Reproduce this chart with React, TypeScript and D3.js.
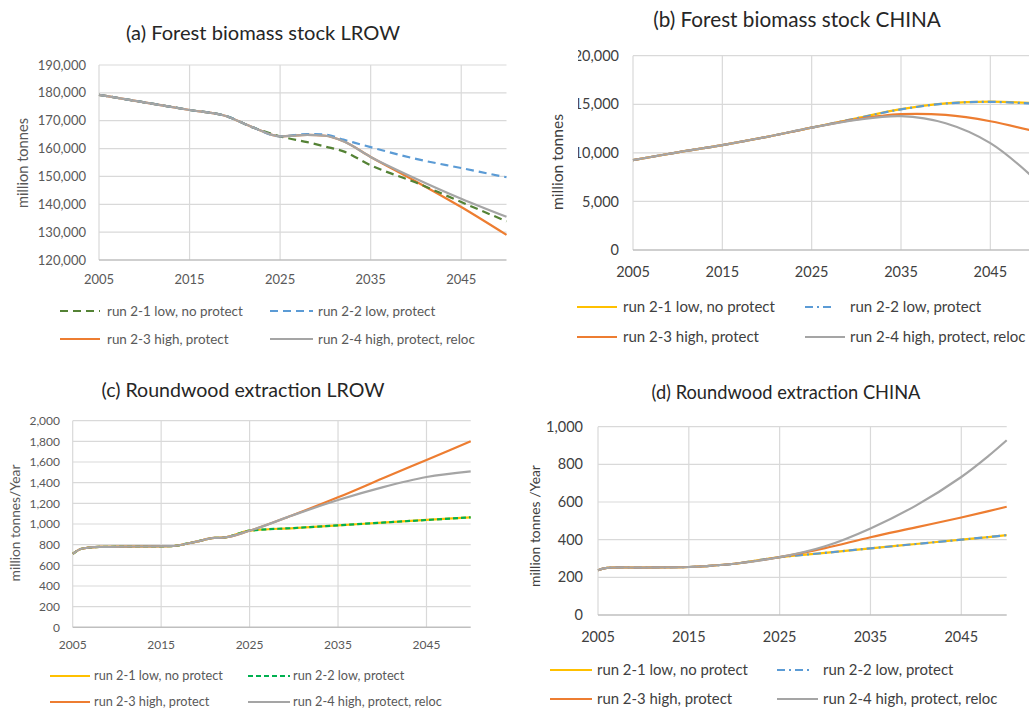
import { useEffect, useRef } from "react";
import * as d3 from "d3";

const FONT = "Lato, 'Open Sans', 'DejaVu Sans', sans-serif";

const seriesNames = [
  "run 2-1 low, no protect",
  "run 2-2 low, protect",
  "run 2-3 high, protect",
  "run 2-4 high, protect, reloc",
];
const xTicks = [2005, 2015, 2025, 2035, 2045];

// (a) Forest biomass stock LROW, million tonnes
const yearsA = [2005, 2010, 2015, 2019, 2022, 2025, 2028, 2030, 2032, 2035, 2040, 2045, 2050];
const baseA = [179300, 176600, 173850, 171700, 167600, 164400];
const run21A = [...baseA, 162300, 160700, 159000, 154000, 147800, 140800, 133900];
const run22A = [...baseA, 165200, 165000, 163200, 160500, 156300, 153000, 149700];
const run23A = [...baseA, 164900, 164600, 162600, 157000, 148200, 139000, 129000];
const run24A = [...baseA, 164900, 164600, 162600, 157000, 149200, 142000, 135500];
const yTicksA = [120000, 130000, 140000, 150000, 160000, 170000, 180000, 190000];

// (b) Forest biomass stock CHINA, million tonnes
const yearsB = [2005, 2010, 2015, 2020, 2025, 2030, 2035, 2040, 2045, 2050];
const baseB = [9250, 10050, 10800, 11650, 12600];
const run21B = [...baseB, 13550, 14500, 15100, 15280, 15100];
const run22B = [...baseB, 13550, 14480, 15080, 15250, 15050];
const run23B = [...baseB, 13450, 13980, 13900, 13250, 12200];
const run24B = [...baseB, 13400, 13780, 13050, 11000, 7300];
const yTicksB = [0, 5000, 10000, 15000, 20000];

// (c) Roundwood extraction LROW, million tonnes/year
const yearsC = [2005, 2006, 2008, 2012, 2016, 2019, 2021, 2022, 2025, 2030, 2035, 2040, 2045, 2050];
const baseC = [710, 760, 778, 782, 785, 830, 865, 868, 935];
const run21C = [...baseC, 961, 987, 1013, 1039, 1065];
const run22C = [...baseC, 961, 987, 1013, 1039, 1065];
const run23C = [...baseC, 1090, 1258, 1440, 1620, 1800];
const run24C = [...baseC, 1088, 1232, 1355, 1455, 1510];
const yTicksC = [0, 200, 400, 600, 800, 1000, 1200, 1400, 1600, 1800, 2000];

// (d) Roundwood extraction CHINA, million tonnes/year
const yearsD = [2005, 2006, 2010, 2015, 2017, 2020, 2025, 2030, 2035, 2040, 2045, 2048, 2050];
const baseD = [238, 250, 252, 255, 260, 272, 307];
const run21D = [...baseD, 330, 354, 377, 400, 414, 424];
const run22D = [...baseD, 330, 354, 377, 400, 414, 424];
const run23D = [...baseD, 355, 413, 465, 518, 552, 575];
const run24D = [...baseD, 365, 460, 581, 733, 845, 928];
const yTicksD = [0, 200, 400, 600, 800, 1000];

const ORANGE = "#ed7d31";
const GRAY = "#a5a5a5";
const BLUE = "#5b9bd5";
const YELLOW = "#ffc000";

type Series = { values: number[]; color: string; dash?: string };
type Panel = {
  title: string; titleX: number; titleY: number; titleW: number;
  x0: number; x1: number; yTop: number; yBottom: number;
  yDomain: [number, number]; yTicks: number[]; years: number[];
  series: Series[]; smooth: boolean;
  tickSize: number; tickColor: string; labelRight: number; xLabelY: number;
  yTitle: string; yTitleX: number; yTitleY: number; yTitleW: number;
  clipLeft?: number;
  legendRows: [number, number]; legendItems: [number, number, number][];
  legendW: number; legendColor: string;
};

const panels: Panel[] = [
  {
    title: "(a) Forest biomass stock LROW", titleX: 263, titleY: 33, titleW: 274,
    x0: 99, x1: 506.5, yTop: 65, yBottom: 260, yDomain: [120000, 190000], yTicks: yTicksA, years: yearsA,
    series: [
      { values: run21A, color: "#548235", dash: "8,5" },
      { values: run22A, color: BLUE, dash: "8,5" },
      { values: run23A, color: ORANGE },
      { values: run24A, color: GRAY },
    ],
    smooth: false,
    tickSize: 13, tickColor: "#595959", labelRight: 86, xLabelY: 279,
    yTitle: "million tonnes", yTitleX: 23, yTitleY: 163, yTitleW: 90,
    legendRows: [311, 339], legendItems: [[60, 100, 107], [270, 313, 318], [60, 100, 107], [270, 313, 318]],
    legendW: 136, legendColor: "#595959",
  },
  {
    title: "(b) Forest biomass stock CHINA", titleX: 797, titleY: 20, titleW: 288,
    x0: 633, x1: 1035, yTop: 55.7, yBottom: 250, yDomain: [0, 20000], yTicks: yTicksB, years: yearsB,
    series: [
      { values: run21B, color: YELLOW },
      { values: run22B, color: BLUE, dash: "8,4,2,4" },
      { values: run23B, color: ORANGE },
      { values: run24B, color: GRAY },
    ],
    smooth: true,
    tickSize: 14.5, tickColor: "#404040", labelRight: 619, xLabelY: 272,
    yTitle: "million tonnes", yTitleX: 558, yTitleY: 162, yTitleW: 96, clipLeft: 578,
    legendRows: [307, 337], legendItems: [[577, 617, 623], [805, 835, 850], [577, 617, 623], [805, 845, 850]],
    legendW: 152, legendColor: "#404040",
  },
  {
    title: "(c) Roundwood extraction LROW", titleX: 243, titleY: 390, titleW: 283,
    x0: 72.7, x1: 470.7, yTop: 420.7, yBottom: 627.3, yDomain: [0, 2000], yTicks: yTicksC, years: yearsC,
    series: [
      { values: run21C, color: YELLOW },
      { values: run22C, color: "#00b050", dash: "5,3" },
      { values: run23C, color: ORANGE },
      { values: run24C, color: GRAY },
    ],
    smooth: false,
    tickSize: 12, tickColor: "#595959", labelRight: 60, xLabelY: 645,
    yTitle: "million tonnes/Year", yTitleX: 15, yTitleY: 523, yTitleW: 117,
    legendRows: [676, 702], legendItems: [[50, 90, 94], [248, 290, 293], [50, 90, 94], [248, 290, 293]],
    legendW: 129, legendColor: "#595959",
  },
  {
    title: "(d) Roundwood extraction CHINA", titleX: 786, titleY: 393, titleW: 269,
    x0: 598, x1: 1006.7, yTop: 426.7, yBottom: 615, yDomain: [0, 1000], yTicks: yTicksD, years: yearsD,
    series: [
      { values: run21D, color: YELLOW },
      { values: run22D, color: BLUE, dash: "8,4,2,4" },
      { values: run23D, color: ORANGE },
      { values: run24D, color: GRAY },
    ],
    smooth: true,
    tickSize: 14.5, tickColor: "#404040", labelRight: 583, xLabelY: 637,
    yTitle: "million tonnes /Year", yTitleX: 535, yTitleY: 526, yTitleW: 122,
    legendRows: [670, 699], legendItems: [[550, 592, 597], [777, 810, 823], [550, 592, 597], [777, 818, 823]],
    legendW: 151, legendColor: "#404040",
  },
];

// scale a text's font size so that it spans the given width
function fitText(sel: d3.Selection<SVGTextElement, unknown, null, undefined>, target: number) {
  const node = sel.node();
  if (!node) return 14;
  const w = node.getComputedTextLength();
  const fs = parseFloat(sel.style("font-size"));
  const size = w > 0 ? (fs * target) / w : fs;
  sel.style("font-size", size + "px");
  return size;
}

function drawPanel(svg: d3.Selection<SVGSVGElement, unknown, null, undefined>, p: Panel, idx: number) {
  const g = svg.append("g");
  const x = d3.scaleLinear().domain([2005, 2050]).range([p.x0, p.x1]);
  const y = d3.scaleLinear().domain(p.yDomain).range([p.yBottom, p.yTop]);

  // gridlines
  g.selectAll(".hgrid")
    .data(p.yTicks.slice(1))
    .join("line")
    .attr("class", "hgrid")
    .attr("x1", p.x0).attr("x2", p.x1)
    .attr("y1", (d) => y(d)).attr("y2", (d) => y(d))
    .attr("stroke", "#d9d9d9").attr("stroke-width", 1.2);
  g.selectAll(".vgrid")
    .data(xTicks)
    .join("line")
    .attr("class", "vgrid")
    .attr("x1", (d) => x(d)).attr("x2", (d) => x(d))
    .attr("y1", p.yTop).attr("y2", p.yBottom)
    .attr("stroke", "#d9d9d9").attr("stroke-width", 1.2);
  g.append("line")
    .attr("x1", p.x0).attr("x2", p.x1)
    .attr("y1", p.yBottom).attr("y2", p.yBottom)
    .attr("stroke", "#bfbfbf").attr("stroke-width", 1.4);

  // y tick labels
  const yLab = g.append("g");
  if (p.clipLeft !== undefined) {
    const id = "clip" + idx;
    svg.append("clipPath").attr("id", id).append("rect")
      .attr("x", p.clipLeft).attr("y", 0).attr("width", 600).attr("height", 709);
    yLab.attr("clip-path", `url(#${id})`);
  }
  yLab.selectAll("text")
    .data(p.yTicks)
    .join("text")
    .attr("x", p.labelRight)
    .attr("y", (d) => y(d))
    .attr("dy", "0.35em")
    .attr("text-anchor", "end")
    .style("font-size", p.tickSize + "px")
    .attr("fill", p.tickColor)
    .text((d) => d3.format(",")(d));

  // x tick labels
  g.selectAll(".xlab")
    .data(xTicks)
    .join("text")
    .attr("class", "xlab")
    .attr("x", (d) => x(d))
    .attr("y", p.xLabelY)
    .attr("dy", "0.35em")
    .attr("text-anchor", "middle")
    .style("font-size", p.tickSize + "px")
    .attr("fill", p.tickColor)
    .text((d) => String(d));

  // y axis title
  const yt = g.append("text")
    .attr("transform", `translate(${p.yTitleX},${p.yTitleY}) rotate(-90)`)
    .attr("dy", "0.35em")
    .attr("text-anchor", "middle")
    .style("font-size", "14px")
    .attr("fill", p.tickColor)
    .text(p.yTitle);
  fitText(yt, p.yTitleW);

  // title
  const title = g.append("text")
    .attr("x", p.titleX)
    .attr("y", p.titleY)
    .attr("dy", "0.35em")
    .attr("text-anchor", "middle")
    .style("font-size", "18px")
    .attr("fill", "#262626")
    .text(p.title);
  fitText(title, p.titleW);

  // series
  const line = d3
    .line<[number, number]>()
    .x((d) => x(d[0]))
    .y((d) => y(d[1]))
    .curve(p.smooth ? d3.curveCatmullRom.alpha(0.5) : d3.curveMonotoneX);
  const order = idx === 0 ? [2, 0, 1, 3] : [0, 1, 2, 3];
  order.forEach((i) => {
    const s = p.series[i];
    g.append("path")
      .datum(p.years.map((yr, k) => [yr, s.values[k]] as [number, number]))
      .attr("d", line)
      .attr("fill", "none")
      .attr("stroke", s.color)
      .attr("stroke-width", 2.2)
      .attr("stroke-dasharray", s.dash ?? null);
  });

  // legend
  let legendSize = 14;
  p.legendItems.forEach(([lx0, lx1, tx], i) => {
    const s = p.series[i];
    const ly = p.legendRows[Math.floor(i / 2)];
    g.append("line")
      .attr("x1", lx0).attr("x2", lx1)
      .attr("y1", ly).attr("y2", ly)
      .attr("stroke", s.color)
      .attr("stroke-width", 2.2)
      .attr("stroke-dasharray", s.dash ?? null);
    const t = g.append("text")
      .attr("x", tx)
      .attr("y", ly)
      .attr("dy", "0.35em")
      .style("font-size", legendSize + "px")
      .attr("fill", p.legendColor)
      .text(seriesNames[i]);
    if (i === 0) legendSize = fitText(t, p.legendW);
  });
}

export default function App() {
  const ref = useRef<SVGSVGElement>(null);

  useEffect(() => {
    if (!ref.current) return;
    const svg = d3.select(ref.current);
    svg.selectAll("*").remove();
    svg.append("rect").attr("width", 1029).attr("height", 709).attr("fill", "#fff");
    panels.forEach((p, i) => drawPanel(svg, p, i));
  }, []);

  return (
    <svg
      ref={ref}
      width={1029}
      height={709}
      style={{ position: "absolute", left: 0, top: 0, fontFamily: FONT, display: "block" }}
    />
  );
}
